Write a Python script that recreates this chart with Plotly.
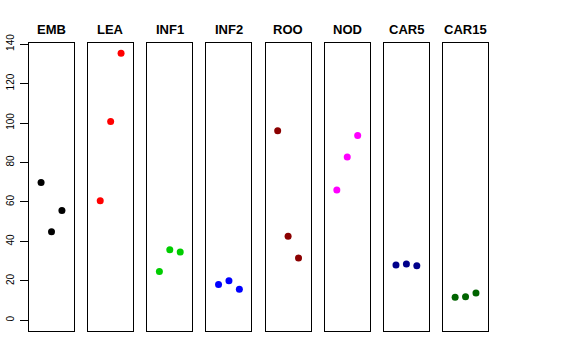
import plotly.graph_objects as go

groups = ["EMB", "LEA", "INF1", "INF2", "ROO", "NOD", "CAR5", "CAR15"]
colors = ["#000000", "#FF0000", "#00CD00", "#0000FF", "#8B0000", "#FF00FF", "#00008B", "#006400"]
positions = [1, 2, 3]
values = {
    "EMB": [69.8, 44.9, 55.7],
    "LEA": [60.6, 100.8, 135.3],
    "INF1": [24.7, 35.8, 34.6],
    "INF2": [18.2, 20.1, 15.7],
    "ROO": [96.1, 42.6, 31.6],
    "NOD": [66.1, 82.8, 93.7],
    "CAR5": [28.1, 28.6, 27.7],
    "CAR15": [11.7, 11.9, 13.9],
}
y_ticks = [0, 20, 40, 60, 80, 100, 120, 140]

W, H = 576, 360
left0, step, pw = 29.0, 59.15, 45.0
ybot, ytop = 331.0, 43.3

fig = go.Figure()
layout = dict(
    width=W, height=H,
    margin=dict(l=0, r=0, t=0, b=0, autoexpand=False),
    paper_bgcolor="white", plot_bgcolor="white",
    showlegend=False,
    font=dict(family="Liberation Sans, Arial, sans-serif", color="black"),
)
annotations = []
for i, g in enumerate(groups):
    n = "" if i == 0 else str(i + 1)
    x0 = left0 + i * step
    x1 = x0 + pw
    fig.add_trace(go.Scatter(
        x=positions, y=values[g], mode="markers",
        marker=dict(color=colors[i], size=7, line=dict(width=0)),
        xaxis="x" + n, yaxis="y" + n, cliponaxis=False,
    ))
    layout["xaxis" + n] = dict(
        domain=[x0 / W, x1 / W], range=[-0.16, 4.16],
        showgrid=False, zeroline=False, showticklabels=False, ticks="",
        showline=True, linecolor="black", linewidth=1, mirror=True,
        anchor="y" + n, fixedrange=True, automargin=False,
    )
    ya = dict(
        domain=[(H - ybot) / H, (H - ytop) / H], range=[-5.4, 140.4],
        showgrid=False, zeroline=False,
        showline=True, linecolor="black", linewidth=1, mirror=True,
        anchor="x" + n, fixedrange=True, automargin=False,
    )
    if i == 0:
        ya.update(
            tickmode="array", tickvals=y_ticks, ticktext=[str(t) for t in y_ticks],
            ticks="outside", ticklen=8, tickwidth=1, tickcolor="black",
            tickangle=-90, tickfont=dict(size=10, color="black"),
            ticklabelstandoff=2,
        )
    else:
        ya.update(showticklabels=False, ticks="")
    layout["yaxis" + n] = ya
    annotations.append(dict(
        text="<b>" + g + "</b>", x=(x0 + x1) / 2 / W, y=(H - 29.5) / H,
        xref="paper", yref="paper", showarrow=False,
        xanchor="center", yanchor="middle",
        font=dict(size=13, color="black"),
    ))
layout["annotations"] = annotations
fig.update_layout(**layout)
fig.write_html(
    "out.html",
    config={"displayModeBar": False},
    post_script="document.body.style.margin='0';document.body.style.padding='0';",
)
